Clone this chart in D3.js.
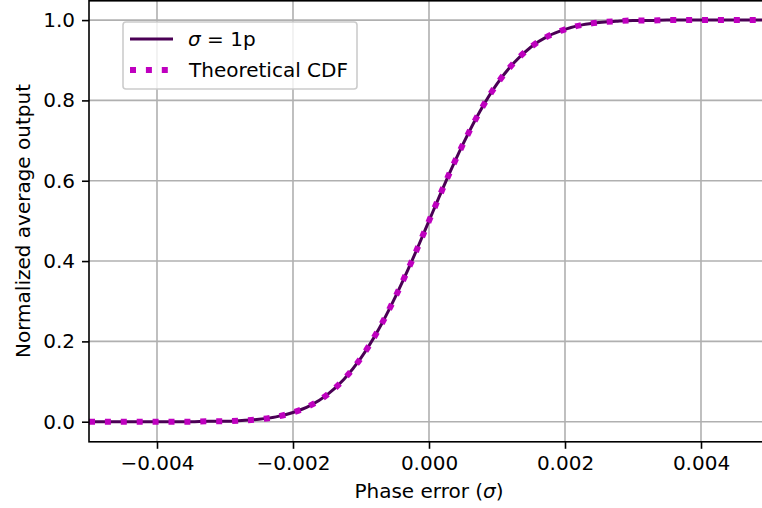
<!DOCTYPE html>
<html>
<head>
<meta charset="utf-8">
<script src="https://cdn.jsdelivr.net/npm/d3@7"></script>
<style>
  body { margin: 0; background: #fff; }
  svg { display: block; font-family: "DejaVu Sans", sans-serif; }
</style>
</head>
<body>
<script>
// phase error grid (sigma)
const phaseErr = [-0.005, -0.00475, -0.0045, -0.00425, -0.004, -0.00375, -0.0035, -0.00325, -0.003, -0.00275,
  -0.0025, -0.00225, -0.002, -0.00175, -0.0015, -0.00125, -0.001, -0.00075, -0.0005, -0.00025,
  0, 0.00025, 0.0005, 0.00075, 0.001, 0.00125, 0.0015, 0.00175, 0.002, 0.00225,
  0.0025, 0.00275, 0.003, 0.00325, 0.0035, 0.00375, 0.004, 0.00425, 0.0045, 0.00475, 0.005];

// simulated normalized average output, sigma = 1p
const simOut = [0.000, 0.000, 0.000, 0.000, 0.000, 0.000, 0.000, 0.001, 0.001, 0.003,
  0.006, 0.012, 0.023, 0.040, 0.067, 0.106, 0.159, 0.227, 0.309, 0.401,
  0.500, 0.599, 0.691, 0.773, 0.841, 0.894, 0.933, 0.960, 0.977, 0.988,
  0.994, 0.997, 0.999, 0.999, 1.000, 1.000, 1.000, 1.000, 1.000, 1.000, 1.000];

// theoretical CDF
const cdfOut = [0.000, 0.000, 0.000, 0.000, 0.000, 0.000, 0.000, 0.001, 0.001, 0.003,
  0.006, 0.012, 0.023, 0.040, 0.067, 0.106, 0.159, 0.227, 0.309, 0.401,
  0.500, 0.599, 0.691, 0.773, 0.841, 0.894, 0.933, 0.960, 0.977, 0.988,
  0.994, 0.997, 0.999, 0.999, 1.000, 1.000, 1.000, 1.000, 1.000, 1.000, 1.000];

const xTicks = [-0.004, -0.002, 0, 0.002, 0.004];
const yTicks = [0, 0.2, 0.4, 0.6, 0.8, 1.0];

const width = 762, height = 508;
const plotL = 89, plotR = 769, plotT = 0, plotB = 441.8;
const fs = "20px";

const svg = d3.select("body").append("svg")
  .attr("width", width)
  .attr("height", height);

const x = d3.scaleLinear().domain([-0.005, 0.005]).range([plotL, plotR]);
const y = d3.scaleLinear().domain([-0.05, 1.05]).range([plotB, plotT]);

// grid
const grid = svg.append("g").attr("stroke", "#b0b0b0").attr("stroke-width", 1.6);
grid.selectAll(".gx").data(xTicks).enter().append("line")
  .attr("x1", d => x(d)).attr("x2", d => x(d))
  .attr("y1", plotT).attr("y2", plotB);
grid.selectAll(".gy").data(yTicks).enter().append("line")
  .attr("x1", plotL).attr("x2", plotR)
  .attr("y1", d => y(d)).attr("y2", d => y(d));

const simData = phaseErr.map((p, i) => [p, simOut[i]]);
const cdfData = phaseErr.map((p, i) => [p, cdfOut[i]]);

const line = d3.line().x(d => x(d[0])).y(d => y(d[1])).curve(d3.curveMonotoneX);

svg.append("path").datum(simData)
  .attr("d", line)
  .attr("fill", "none")
  .attr("stroke", "#4b0055")
  .attr("stroke-width", 3);

svg.append("path").datum(cdfData)
  .attr("d", line)
  .attr("fill", "none")
  .attr("stroke", "#bf00bf")
  .attr("stroke-width", 6)
  .attr("stroke-dasharray", "6,9.9");

// axes
const xAxis = d3.axisBottom(x).tickValues(xTicks)
  .tickFormat(d => d3.format(".3f")(d).replace("-", "\u2212"))
  .tickSizeOuter(0).tickSize(7).tickPadding(7);
const yAxis = d3.axisLeft(y).tickValues(yTicks)
  .tickFormat(d3.format(".1f"))
  .tickSizeOuter(0).tickSize(7).tickPadding(7);

const gx = svg.append("g").attr("transform", "translate(0," + plotB + ")").call(xAxis);
const gy = svg.append("g").attr("transform", "translate(" + plotL + ",0)").call(yAxis);
[gx, gy].forEach(g => {
  g.select(".domain").remove();
  g.selectAll("line").attr("stroke", "#000").attr("stroke-width", 1.6);
  g.selectAll("text").attr("fill", "#000").attr("font-size", fs)
    .attr("font-family", "DejaVu Sans");
});

// spines
svg.append("rect")
  .attr("x", plotL).attr("y", plotT + 0.8)
  .attr("width", plotR - plotL).attr("height", plotB - plotT - 0.8)
  .attr("fill", "none").attr("stroke", "#000").attr("stroke-width", 1.6);

// axis labels
const xl = svg.append("text")
  .attr("x", (plotL + plotR) / 2).attr("y", 498)
  .attr("text-anchor", "middle").attr("font-size", fs);
xl.append("tspan").text("Phase error (");
xl.append("tspan").attr("font-style", "italic").text("\u03c3");
xl.append("tspan").text(")");

svg.append("text")
  .attr("transform", "translate(30," + 221 + ") rotate(-90)")
  .attr("text-anchor", "middle").attr("font-size", fs)
  .text("Normalized average output");

// legend
const lg = svg.append("g");
lg.append("rect")
  .attr("x", 123).attr("y", 22).attr("width", 234).attr("height", 67).attr("rx", 3)
  .attr("fill", "#fff").attr("fill-opacity", 0.8)
  .attr("stroke", "#cccccc").attr("stroke-width", 1.6);
lg.append("line").attr("x1", 130).attr("x2", 173).attr("y1", 39).attr("y2", 39)
  .attr("stroke", "#4b0055").attr("stroke-width", 3);
lg.append("line").attr("x1", 130).attr("x2", 173).attr("y1", 70).attr("y2", 70)
  .attr("stroke", "#bf00bf").attr("stroke-width", 6).attr("stroke-dasharray", "6,9.9");
const t1 = lg.append("text").attr("x", 188).attr("y", 46).attr("font-size", fs);
t1.append("tspan").attr("font-style", "italic").text("\u03c3");
t1.append("tspan").text(" = 1p");
lg.append("text").attr("x", 189).attr("y", 77).attr("font-size", fs)
  .text("Theoretical CDF");
</script>
</body>
</html>
